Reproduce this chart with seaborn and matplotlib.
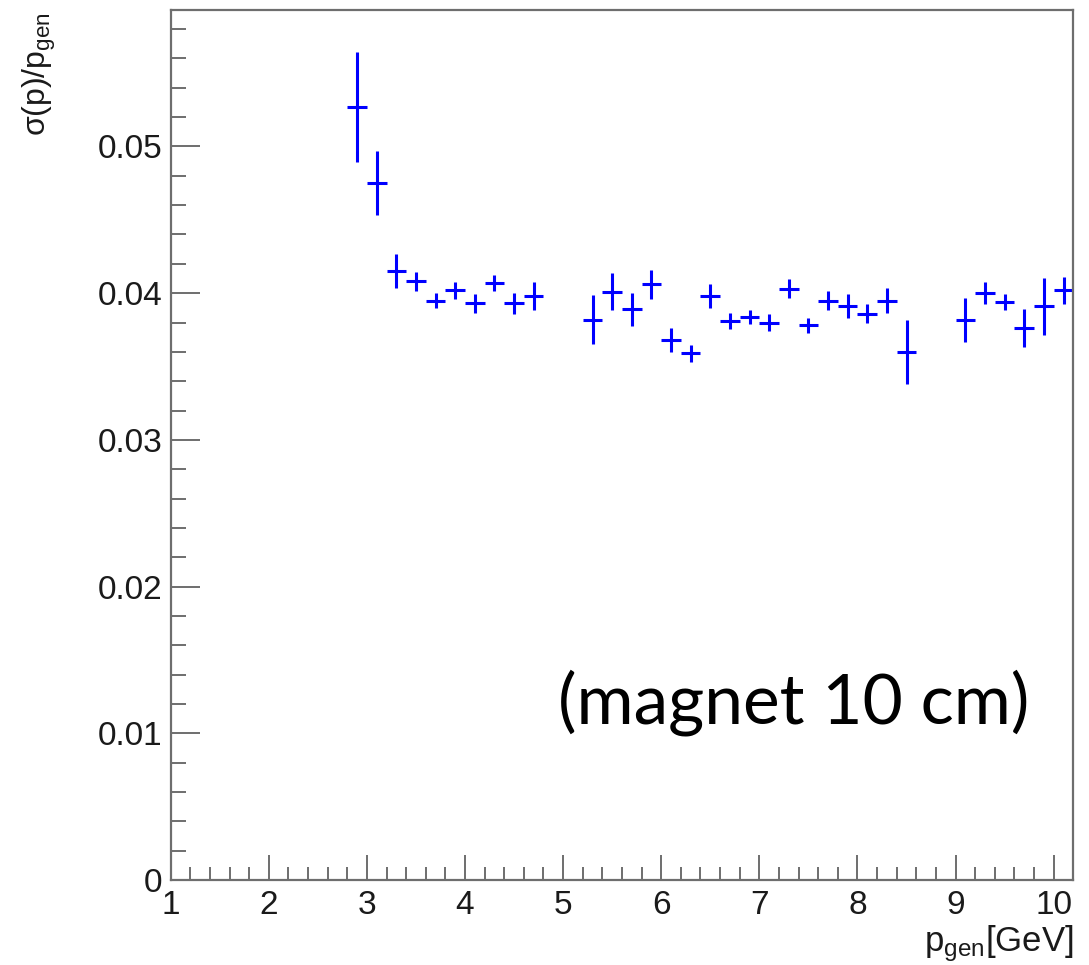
import matplotlib
matplotlib.use("Agg")
import matplotlib.pyplot as plt
import matplotlib.ticker as ticker
import seaborn as sns

# momentum bins (bin centres, bin width 0.2 GeV)
p_gen = [2.9, 3.1, 3.3, 3.5, 3.7, 3.9, 4.1, 4.3, 4.5, 4.7,
         5.3, 5.5, 5.7, 5.9, 6.1, 6.3, 6.5, 6.7, 6.9, 7.1,
         7.3, 7.5, 7.7, 7.9, 8.1, 8.3, 8.5,
         9.1, 9.3, 9.5, 9.7, 9.9, 10.1]
half_bin = 0.1

# relative resolution sigma(p)/p_gen and its error
resolution = [0.0527, 0.0475, 0.0415, 0.0408, 0.0395, 0.0402, 0.0393, 0.0407, 0.0393, 0.0398,
              0.0382, 0.0401, 0.0389, 0.0406, 0.0368, 0.0359, 0.0398, 0.0381, 0.0384, 0.0380,
              0.0403, 0.0378, 0.0395, 0.0391, 0.0386, 0.0395, 0.0360,
              0.0382, 0.0400, 0.0394, 0.0376, 0.0391, 0.0402]
resolution_err = [0.00375, 0.0022, 0.00116, 0.00063, 0.0005, 0.00057, 0.00065, 0.00055, 0.00073, 0.00097,
                  0.00168, 0.00128, 0.00112, 0.0010, 0.00082, 0.00059, 0.00082, 0.00055, 0.00048, 0.0006,
                  0.00065, 0.0005, 0.00066, 0.00082, 0.00063, 0.00083, 0.00216,
                  0.0015, 0.00074, 0.00055, 0.0013, 0.00196, 0.00091]

y_ticks = [0, 0.01, 0.02, 0.03, 0.04, 0.05]
x_ticks = [1, 2, 3, 4, 5, 6, 7, 8, 9, 10]

sns.set_style("ticks")
plt.rcParams['font.family'] = ['Liberation Sans', 'DejaVu Sans']
plt.rcParams['mathtext.default'] = 'regular'

fig = plt.figure(figsize=(10.89, 9.65), dpi=100)
ax = fig.add_axes([0.1567, 0.0881, 0.8289, 0.9015])

# ROOT-like crosses: no markers, no caps
ax.errorbar(p_gen, resolution, xerr=half_bin, yerr=resolution_err,
            fmt='none', ecolor='#0000ff', elinewidth=2.2, capsize=0)

ax.set_xlim(1, 10.2)
ax.set_ylim(0, 0.0593)

frame_col = '#6e6e6e'
for s in ax.spines.values():
    s.set_color(frame_col)
    s.set_linewidth(1.6)

ax.set_xticks(x_ticks)
ax.set_yticks(y_ticks)
ax.xaxis.set_minor_locator(ticker.MultipleLocator(0.2))
ax.yaxis.set_minor_locator(ticker.MultipleLocator(0.002))
ax.yaxis.set_major_formatter(ticker.FuncFormatter(lambda v, pos: '%g' % v))

ax.tick_params(which='both', direction='in', top=False, right=False,
               color=frame_col, width=1.4, labelsize=24)
ax.tick_params(axis='y', which='major', length=21, pad=6)
ax.tick_params(axis='y', which='minor', length=11)
ax.tick_params(axis='x', which='major', length=18, pad=7)
ax.tick_params(axis='x', which='minor', length=9.5)
for lbl in ax.get_xticklabels() + ax.get_yticklabels():
    lbl.set_color('#1a1a1a')

# axis titles, ROOT style (y at top, x at right)
ax.text(-0.145, 0.997, r'σ(p)/$p_{gen}$', transform=ax.transAxes,
        rotation=90, ha='center', va='top', fontsize=23, color='#1a1a1a')
ax.text(1.0, -0.05, r'$p_{gen}$[GeV]', transform=ax.transAxes,
        ha='right', va='top', fontsize=25, color='#1a1a1a')

ax.text(4.95, 0.01066, '(magnet 10 cm)', fontsize=50, family='Lato',
        ha='left', va='baseline', color='black')

plt.savefig('out.png', dpi=100)
plt.close()
